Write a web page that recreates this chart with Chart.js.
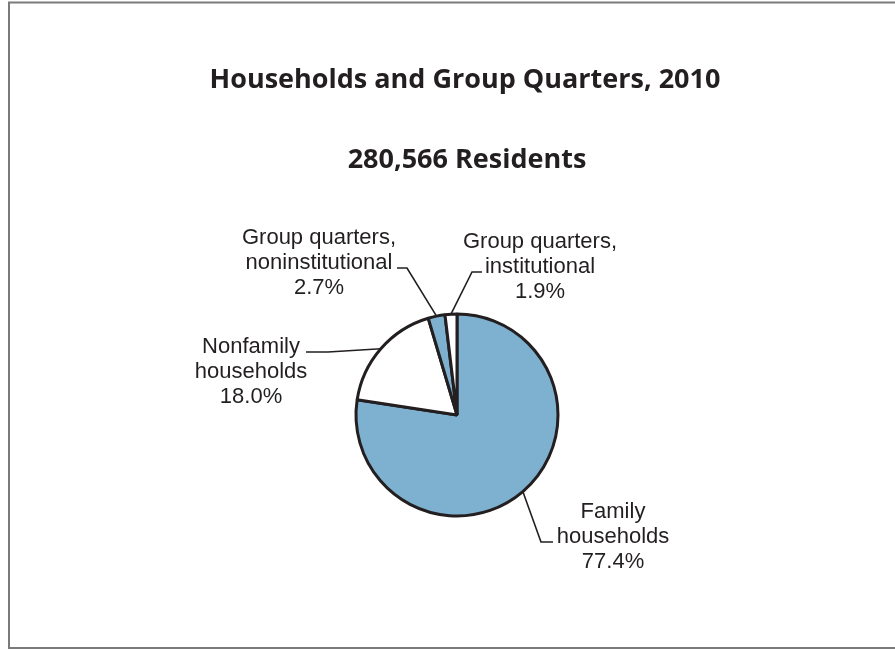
<!DOCTYPE html>
<html>
<head>
<meta charset="utf-8">
<title>Households and Group Quarters, 2010</title>
<script src="https://cdn.jsdelivr.net/npm/chart.js@4/dist/chart.umd.min.js"></script>
<style>
    html, body { margin: 0; padding: 0; background: #fff; }
    canvas { display: block; }
</style>
</head>
<body>
<canvas id="myChart" width="895" height="650"></canvas>
<script>
const chartTitle = 'Households and Group Quarters, 2010';
const totalResidents = 280566;
const categories = [
    ['Family', 'households'],
    ['Nonfamily', 'households'],
    ['Group quarters,', 'noninstitutional'],
    ['Group quarters,', 'institutional']
];
const shares = [77.4, 18.0, 2.7, 1.9];

const blue = '#7eb0cf';
const ink = '#231f20';

// where each label sits, relative to the pie centre
// tx/ty: text centre and first baseline, lx/ly: end of the leader stub, stub: stub length (+ = towards right)
const labelLayout = [
    { tx: 156, ty: 103, lx: 96, ly: 127, stub: -12 },
    { tx: -206, ty: -62, lx: -151, ly: -63, stub: 22 },
    { tx: -138, ty: -171, lx: -60, ly: -147, stub: 10 },
    { tx: 83, ty: -167, lx: 25, ly: -143, stub: -10 }
];

// grey frame and the two heading lines
const frameAndTitles = {
    id: 'frameAndTitles',
    beforeDraw(chart) {
        const ctx = chart.ctx;
        ctx.save();
        ctx.fillStyle = '#fff';
        ctx.fillRect(0, 0, chart.width, chart.height);
        ctx.strokeStyle = '#7a7a7a';
        ctx.lineWidth = 2;
        ctx.strokeRect(9, 2.5, 900, 645.5);

        ctx.fillStyle = ink;
        ctx.textAlign = 'center';
        ctx.textBaseline = 'alphabetic';
        ctx.font = 'bold 27px "Open Sans"';
        ctx.fillText(chartTitle, 465, 88);
        ctx.fillText(totalResidents.toLocaleString('en-US') + ' Residents', 467, 168);
        ctx.restore();
    }
};

// category labels with leader lines back to the middle of each slice
const sliceLabels = {
    id: 'sliceLabels',
    afterDatasetsDraw(chart) {
        const ctx = chart.ctx;
        const arcs = chart.getDatasetMeta(0).data;
        ctx.save();
        ctx.fillStyle = ink;
        ctx.strokeStyle = ink;
        ctx.lineWidth = 1.6;
        ctx.font = '22px "Liberation Sans", Arial, sans-serif';
        ctx.textAlign = 'center';
        ctx.textBaseline = 'alphabetic';

        arcs.forEach((arc, i) => {
            const { x, y, startAngle, endAngle, outerRadius } = arc.getProps(['x', 'y', 'startAngle', 'endAngle', 'outerRadius'], true);
            const mid = (startAngle + endAngle) / 2;
            const px = x + Math.cos(mid) * outerRadius;
            const py = y + Math.sin(mid) * outerRadius;
            const l = labelLayout[i];

            ctx.beginPath();
            ctx.moveTo(px, py);
            ctx.lineTo(x + l.lx + l.stub, y + l.ly);
            ctx.lineTo(x + l.lx, y + l.ly);
            ctx.stroke();

            const lines = categories[i].concat(shares[i].toFixed(1) + '%');
            lines.forEach((line, j) => {
                ctx.fillText(line, x + l.tx, y + l.ty + j * 25);
            });
        });
        ctx.restore();
    }
};

const ctx = document.getElementById('myChart').getContext('2d');
const myChart = new Chart(ctx, {
    type: 'pie',
    data: {
        labels: categories.map(c => c.join(' ')),
        datasets: [{
            data: shares,
            backgroundColor: [blue, '#ffffff', blue, '#ffffff'],
            borderColor: ink,
            borderWidth: 3
        }]
    },
    options: {
        responsive: false,
        animation: false,
        events: [],
        radius: 101,
        layout: {
            padding: { left: 19, right: 0, top: 230, bottom: 50 }
        },
        plugins: {
            legend: { display: false },
            tooltip: { enabled: false },
            title: { display: false }
        }
    },
    plugins: [frameAndTitles, sliceLabels]
});
</script>
</body>
</html>
